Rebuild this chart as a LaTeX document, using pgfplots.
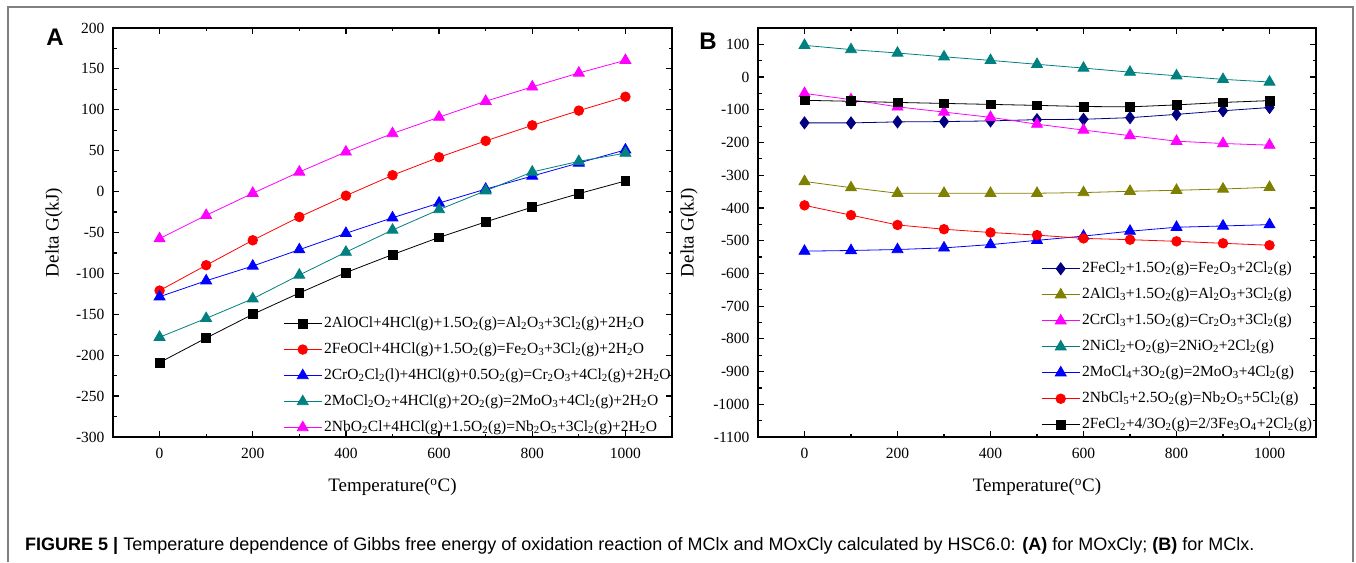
\documentclass[border=0pt]{standalone}
\usepackage{pgfplots}
\pgfplotsset{compat=1.18}
\usepackage{pgfplotstable}
\usepackage{fontspec}
\setmainfont{Liberation Serif}
\newfontfamily\capfont{Liberation Sans}
\definecolor{cteal}{RGB}{0,128,128}
\definecolor{cnavy}{RGB}{0,0,128}
\definecolor{colive}{RGB}{128,128,0}
\definecolor{cmag}{RGB}{255,0,255}
\definecolor{cred}{RGB}{255,0,0}
\definecolor{cblue}{RGB}{0,0,255}

\pgfplotstableread{
T    AlOCl  FeOCl  CrOCl  MoClO  NbOCl
0    -209   -121   -128.5 -178   -57.5
100  -179   -90    -109   -155   -29
200  -150   -59.5  -91    -131   -2
300  -124   -31    -71    -102   24
400  -99    -5     -51    -74    48.5
500  -77    20     -32    -47    71
600  -56    42     -14    -22    91
700  -37    62     3      1      110.5
800  -19    81     19     24     128
900  -2.5   99     35     37     145
1000 13     116    51     47     160.5
}\dataA

\pgfplotstableread{
T    FeCla  AlCl   CrCl   NiCl   MoCl   NbCl   FeClb
0    -140   -319   -50    97     -532   -392   -71
100  -140   -338   -69    84     -530   -422   -74
200  -137   -355   -91    73.5   -527   -452   -77.5
300  -136   -355   -107   62     -522   -465   -80.5
400  -134   -355   -123   51     -512   -475   -83.5
500  -130   -355   -144   39     -499   -483   -86.5
600  -129   -353   -162   27.5   -486   -493   -90
700  -124   -349   -179   15     -471   -497   -91
800  -114   -346   -196   4      -459   -502   -85
900  -103   -342   -203   -7     -455   -508   -77.5
1000 -93    -337   -208   -15    -451   -514   -72
}\dataB

\pgfplotsset{
  myax/.style={
    scale only axis,
    height=409pt,
    xmin=-100, xmax=1100,
    xtick={0,200,...,1000}, minor x tick num=1,
    minor y tick num=1,
    tick align=inside,
    major tick length=6pt, minor tick length=3.5pt,
    every tick/.style={line width=1.2pt, black},
    axis line style={line width=1.5pt},
    ticklabel style={font=\fontsize{15.5}{18}\selectfont},
    xticklabel style={yshift=-8pt},
    yticklabel style={xshift=-5pt},
    /pgf/number format/assume math mode=true,
    /pgf/number format/1000 sep={},
    xlabel={Temperature(\textsuperscript{o}C)},
    ylabel={Delta G(kJ)},
    label style={font=\fontsize{19}{22}\selectfont},
    xlabel style={at={(axis description cs:0.5,-0.122)}, anchor=center},
    every axis plot/.append style={line width=0.8pt},
    legend style={draw=none, fill=none, font=\fontsize{15.5}{18}\selectfont,
      cells={anchor=west}, row sep=7pt,
      nodes={inner sep=2pt, text height=11pt, text depth=4pt}},
    legend image code/.code={\draw[mark repeat=2,mark phase=2] plot coordinates {(0pt,0pt) (19pt,0pt) (38pt,0pt)};},
  },
  sq/.style={mark=square*, mark size=4.4pt},
  ci/.style={mark=*, mark size=4.8pt},
  tu/.style={mark=triangle*, mark size=6.3pt},
  td/.style={mark=triangle*, mark size=6.3pt, mark options={rotate=180}},
  tl/.style={mark=triangle*, mark size=6.3pt, mark options={rotate=90}},
  tr/.style={mark=triangle*, mark size=6.3pt, mark options={rotate=-90}},
  di/.style={mark=diamond*, mark size=6pt},
}

\begin{document}
\begin{tikzpicture}
\useasboundingbox (0,0) rectangle (1356pt,562pt);
\fill[white] (0,0) rectangle (1356pt,562pt);
\draw[gray, line width=1.2pt] (8pt,0) -- (8pt,555pt) -- (1353pt,555pt) -- (1353pt,0);

\begin{axis}[myax, at={(113pt,125pt)}, anchor=south west, width=559pt,
  ymin=-300, ymax=200, ytick={-300,-250,...,200},
  ylabel style={at={(axis description cs:-0.1055,0.5)}, anchor=center},
  legend style={at={(0.299,0.306)}, anchor=north west}]
\addplot[black, sq, mark options={fill=black}] table[x=T,y=AlOCl]{\dataA};
\addlegendentry{2AlOCl+4HCl(g)+1.5O\textsubscript{2}(g)=Al\textsubscript{2}O\textsubscript{3}+3Cl\textsubscript{2}(g)+2H\textsubscript{2}O}
\addplot[cred, ci, mark options={fill=cred}] table[x=T,y=FeOCl]{\dataA};
\addlegendentry{2FeOCl+4HCl(g)+1.5O\textsubscript{2}(g)=Fe\textsubscript{2}O\textsubscript{3}+3Cl\textsubscript{2}(g)+2H\textsubscript{2}O}
\addplot[cblue, tu, mark options={fill=cblue}] table[x=T,y=CrOCl]{\dataA};
\addlegendentry{2CrO\textsubscript{2}Cl\textsubscript{2}(l)+4HCl(g)+0.5O\textsubscript{2}(g)=Cr\textsubscript{2}O\textsubscript{3}+4Cl\textsubscript{2}(g)+2H\textsubscript{2}O}
\addplot[cteal, td, mark options={fill=cteal}] table[x=T,y=MoClO]{\dataA};
\addlegendentry{2MoCl\textsubscript{2}O\textsubscript{2}+4HCl(g)+2O\textsubscript{2}(g)=2MoO\textsubscript{3}+4Cl\textsubscript{2}(g)+2H\textsubscript{2}O}
\addplot[cmag, tl, mark options={fill=cmag}] table[x=T,y=NbOCl]{\dataA};
\addlegendentry{2NbO\textsubscript{2}Cl+4HCl(g)+1.5O\textsubscript{2}(g)=Nb\textsubscript{2}O\textsubscript{5}+3Cl\textsubscript{2}(g)+2H\textsubscript{2}O}
\end{axis}

\begin{axis}[myax, at={(758pt,125pt)}, anchor=south west, width=558pt,
  ymin=-1100, ymax=150, ytick={-1100,-1000,...,100},
  ylabel style={at={(axis description cs:-0.1237,0.5)}, anchor=center},
  legend style={at={(0.502,0.440)}, anchor=north west}]
\addplot[cnavy, di, mark options={fill=cnavy}] table[x=T,y=FeCla]{\dataB};
\addlegendentry{2FeCl\textsubscript{2}+1.5O\textsubscript{2}(g)=Fe\textsubscript{2}O\textsubscript{3}+2Cl\textsubscript{2}(g)}
\addplot[colive, tr, mark options={fill=colive}] table[x=T,y=AlCl]{\dataB};
\addlegendentry{2AlCl\textsubscript{3}+1.5O\textsubscript{2}(g)=Al\textsubscript{2}O\textsubscript{3}+3Cl\textsubscript{2}(g)}
\addplot[cmag, tl, mark options={fill=cmag}] table[x=T,y=CrCl]{\dataB};
\addlegendentry{2CrCl\textsubscript{3}+1.5O\textsubscript{2}(g)=Cr\textsubscript{2}O\textsubscript{3}+3Cl\textsubscript{2}(g)}
\addplot[cteal, td, mark options={fill=cteal}] table[x=T,y=NiCl]{\dataB};
\addlegendentry{2NiCl\textsubscript{2}+O\textsubscript{2}(g)=2NiO\textsubscript{2}+2Cl\textsubscript{2}(g)}
\addplot[cblue, tu, mark options={fill=cblue}] table[x=T,y=MoCl]{\dataB};
\addlegendentry{2MoCl\textsubscript{4}+3O\textsubscript{2}(g)=2MoO\textsubscript{3}+4Cl\textsubscript{2}(g)}
\addplot[cred, ci, mark options={fill=cred}] table[x=T,y=NbCl]{\dataB};
\addlegendentry{2NbCl\textsubscript{5}+2.5O\textsubscript{2}(g)=Nb\textsubscript{2}O\textsubscript{5}+5Cl\textsubscript{2}(g)}
\addplot[black, sq, mark options={fill=black}] table[x=T,y=FeClb]{\dataB};
\addlegendentry{2FeCl\textsubscript{2}+4/3O\textsubscript{2}(g)=2/3Fe\textsubscript{3}O\textsubscript{4}+2Cl\textsubscript{2}(g)}
\end{axis}

\node[font=\capfont\bfseries\fontsize{24}{28}\selectfont, anchor=center] at (55pt,525pt) {A};
\node[font=\capfont\bfseries\fontsize{24}{28}\selectfont, anchor=center] at (708pt,521pt) {B};
\node[font=\capfont\fontsize{18}{21}\selectfont, anchor=base west, inner sep=0pt] at (25pt,12pt)
  {\textbf{FIGURE 5 |} Temperature dependence of Gibbs free energy of oxidation reaction of MClx and MOxCly calculated by HSC6.0: \textbf{(A)} for MOxCly; \textbf{(B)} for MClx.};
\end{tikzpicture}
\end{document}
